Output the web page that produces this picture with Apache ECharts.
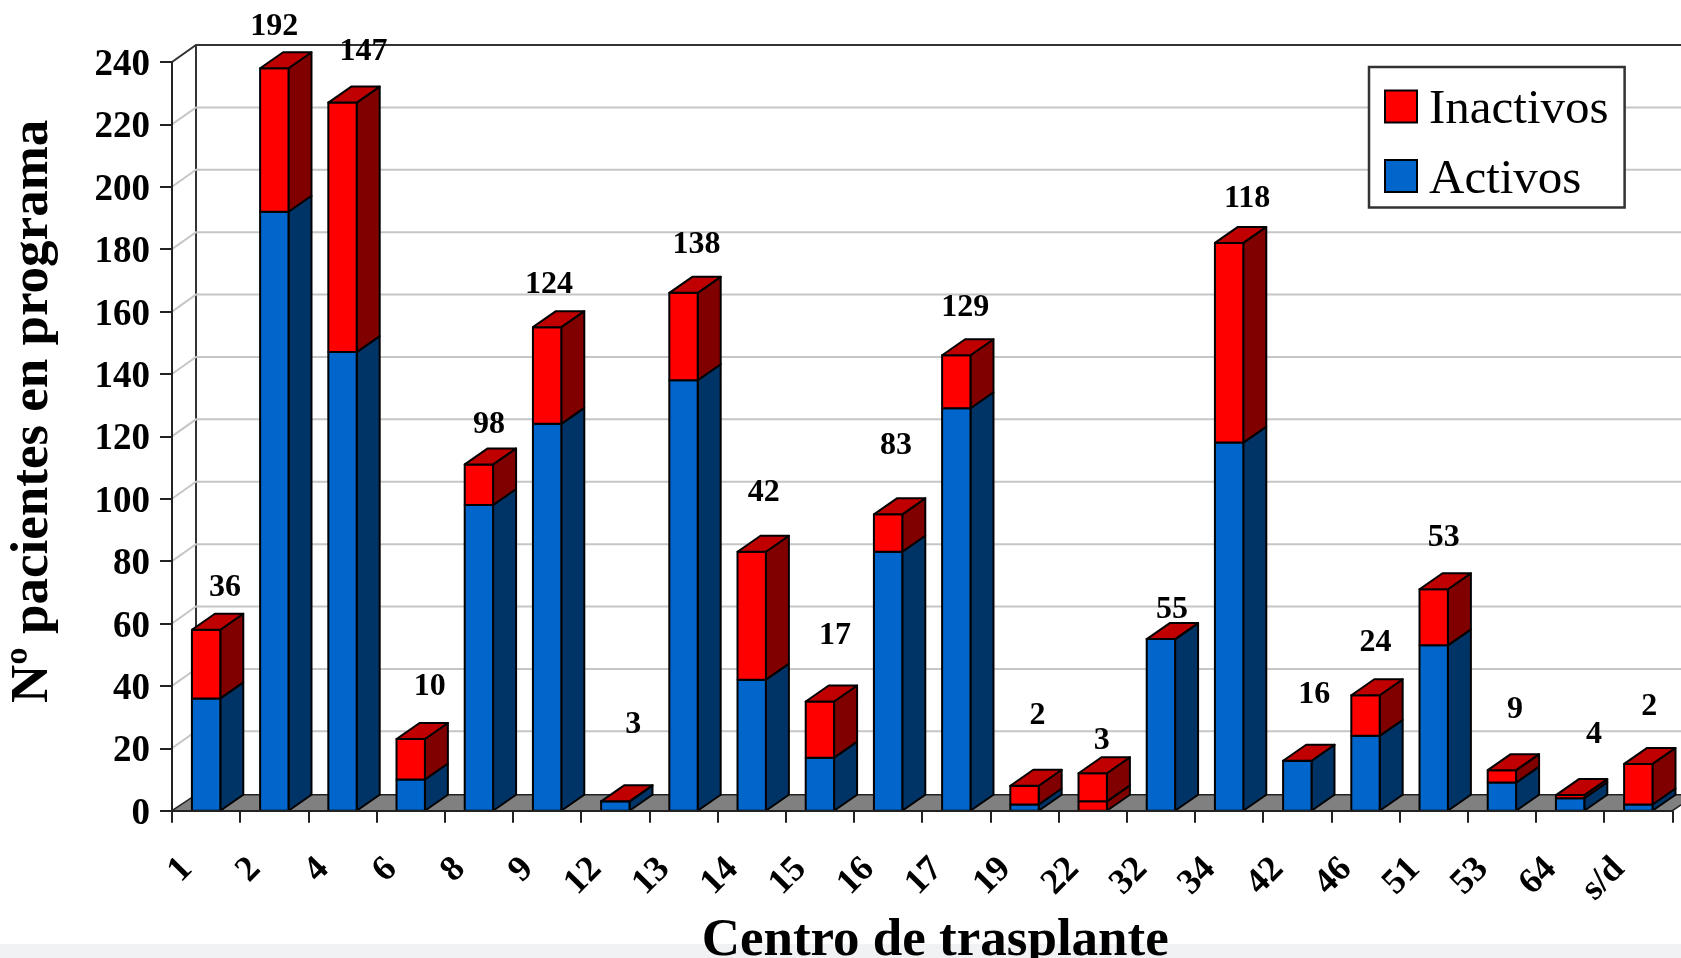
<!DOCTYPE html>
<html>
<head>
<meta charset="utf-8">
<style>
  html, body { margin: 0; padding: 0; background: #fff; }
  #chart { width: 1681px; height: 958px; }
</style>
</head>
<body>
<div id="chart"></div>
<script src="https://cdn.jsdelivr.net/npm/echarts@6/dist/echarts.min.js"></script>
<script>
const centros = ['1', '2', '4', '6', '8', '9', '12', '13', '14', '15', '16', '17', '19', '22', '32', '34', '42', '46', '51', '53', '64', 's/d']
const activos = [36, 192, 147, 10, 98, 124, 3, 138, 42, 17, 83, 129, 2, 3, 55, 118, 16, 24, 53, 9, 4, 2]
const inactivos = [22, 46, 80, 13, 13, 31, 0, 28, 41, 18, 12, 17, 6, 9, 0, 64, 0, 13, 18, 4, 1, 13]
const yTicks = [0, 20, 40, 60, 80, 100, 120, 140, 160, 180, 200, 220, 240]

// the value labels were placed by hand in the original, so each one has its own nudge (px)
const labelDx = [19, 0, 21, 19, 10, 2, 18, 13, 12, 15, 8, 9, 13, 9, 11, 18, 17, 10, 10, 13, 24, 11]
const labelLift = [45, 45, 54, 55, 43, 45, 80, 51, 62, 69, 72, 51, 73, 36, 32, 47, 69, 56, 54, 63, 63, 60]

// in the original the lower block of this centre came out red
const redBase = ['22']

const RED = '#FF0000'
const RED_SIDE = '#800000'
const RED_TOP = '#C00000'
const BLUE = '#0066CC'
const BLUE_SIDE = '#003366'
const SERIF = '"Liberation Serif", serif'

const WALL_X = 24
const WALL_Y = 16
const BAR_DEPTH_X = 23
const BAR_DEPTH_Y = 16
const BAR_RATIO = 0.416

function block(api, lo, hi, front, side, top) {
  const i = api.value(0)
  const cx = api.coord([i, 0])[0]
  const w = api.size([1, 0])[0] * BAR_RATIO
  const x1 = cx - w / 2
  const x2 = cx + w / 2
  const yLo = api.coord([i, lo])[1]
  const yHi = api.coord([i, hi])[1]
  const line = { stroke: '#000', lineWidth: 2, lineJoin: 'round' }
  const kids = [
    {
      type: 'polygon',
      shape: { points: [[x2, yLo], [x2 + BAR_DEPTH_X, yLo - BAR_DEPTH_Y], [x2 + BAR_DEPTH_X, yHi - BAR_DEPTH_Y], [x2, yHi]] },
      style: { fill: side, ...line },
    },
    {
      type: 'rect',
      shape: { x: x1, y: yHi, width: w, height: yLo - yHi },
      style: { fill: front, ...line },
    },
  ]
  if (top) {
    kids.push({
      type: 'polygon',
      shape: { points: [[x1, yHi], [x1 + BAR_DEPTH_X, yHi - BAR_DEPTH_Y], [x2 + BAR_DEPTH_X, yHi - BAR_DEPTH_Y], [x2, yHi]] },
      style: { fill: top, ...line },
    })
  }
  return kids
}

function renderActivos(params, api) {
  const isRed = redBase.includes(centros[params.dataIndex])
  return {
    type: 'group',
    children: block(api, 0, api.value(1), isRed ? RED : BLUE, isRed ? RED_SIDE : BLUE_SIDE),
  }
}

function renderInactivos(params, api) {
  const n = params.dataIndex
  const total = api.value(2)
  const kids = block(api, api.value(1), total, RED, RED_SIDE, RED_TOP)
  const cx = api.coord([n, 0])[0]
  const yTop = api.coord([n, total])[1]
  kids.push({
    type: 'text',
    z2: 20,
    style: {
      text: String(activos[n]),
      x: cx + labelDx[n],
      y: yTop - labelLift[n] + 3,
      align: 'center',
      verticalAlign: 'middle',
      font: 'bold 32px ' + SERIF,
      fill: '#000',
    },
  })
  return { type: 'group', children: kids }
}

// back wall, side wall and floor, the y axis only gives us the front edge
function renderWall(params, api) {
  const tick = api.value(0)
  const left = params.coordSys.x
  const right = left + params.coordSys.width
  const y = api.coord([0, tick])[1]
  const kids = []
  if (tick === 0) {
    kids.push({
      type: 'polygon',
      shape: { points: [[left, y], [left + WALL_X, y - WALL_Y], [right + WALL_X, y - WALL_Y], [right, y]] },
      style: { fill: '#808080', stroke: '#222', lineWidth: 1.5 },
    })
    const yMax = api.coord([0, yTicks[yTicks.length - 1]])[1]
    kids.push({
      type: 'line',
      shape: { x1: left + WALL_X, y1: y - WALL_Y, x2: left + WALL_X, y2: yMax - WALL_Y },
      style: { stroke: '#333', lineWidth: 2 },
    })
  } else {
    const isTop = tick === yTicks[yTicks.length - 1]
    kids.push({
      type: 'polyline',
      shape: { points: [[left, y], [left + WALL_X, y - WALL_Y - 1], [right + WALL_X, y - WALL_Y - 1]] },
      style: { fill: 'none', stroke: isTop ? '#333' : '#C6C6C6', lineWidth: 2 },
    })
  }
  return { type: 'group', children: kids }
}

const chart = echarts.init(document.getElementById('chart'))

chart.setOption({
  animation: false,
  backgroundColor: '#fff',
  textStyle: { fontFamily: SERIF },
  grid: { left: 172, top: 62, width: 1500.4, height: 748.7, outerBoundsMode: 'none' },
  legend: {
    data: ['Inactivos', 'Activos'],
    orient: 'vertical',
    left: 1369,
    top: 67,
    z: 10,
    icon: 'rect',
    itemWidth: 32,
    itemHeight: 32,
    itemGap: 20.5,
    padding: [19, 16, 3, 15],
    backgroundColor: '#fff',
    borderColor: '#333',
    borderWidth: 2.5,
    borderRadius: 0,
    formatter: '{a|{name}}',
    textStyle: {
      rich: {
        a: { fontFamily: SERIF, fontSize: 49, color: '#000', padding: [8, 0, 0, 7] },
      },
    },
  },
  xAxis: {
    type: 'category',
    data: centros,
    z: 3,
    name: 'Centro de trasplante',
    nameLocation: 'middle',
    nameGap: 97,
    nameTextStyle: { fontFamily: SERIF, fontWeight: 'bold', fontSize: 53, color: '#000', padding: [0, 0, 0, 26] },
    axisLine: { lineStyle: { color: '#222', width: 2 } },
    axisTick: { show: true, length: 12, alignWithLabel: false, lineStyle: { color: '#222', width: 2 } },
    axisLabel: {
      interval: 0,
      rotate: 45,
      align: 'right',
      verticalAlign: 'middle',
      margin: 34,
      padding: [0, 27, 0, 0],
      hideOverlap: false,
      fontFamily: SERIF,
      fontWeight: 'bold',
      fontSize: 36,
      color: '#000',
    },
  },
  yAxis: {
    type: 'value',
    min: 0,
    max: 240,
    interval: 20,
    z: 3,
    name: 'Nº pacientes en programa',
    nameLocation: 'middle',
    nameGap: 112,
    nameTextStyle: { fontFamily: SERIF, fontWeight: 'bold', fontSize: 53, color: '#000', padding: [0, 0, 0, 50] },
    splitLine: { show: false },
    axisLine: { show: true, lineStyle: { color: '#222', width: 2 } },
    axisTick: { show: true, length: 12, lineStyle: { color: '#222', width: 2 } },
    axisLabel: {
      margin: 22,
      formatter: '{v|{value}}',
      rich: {
        v: { fontFamily: SERIF, fontWeight: 'bold', fontSize: 37, color: '#000', padding: [7, 0, 0, 0] },
      },
    },
  },
  graphic: [
    {
      // pale strip along the bottom of the screenshot
      type: 'rect',
      z: -1,
      shape: { x: 0, y: 944, width: 1681, height: 14 },
      style: { fill: '#F1F2F3' },
    },
  ],
  series: [
    {
      name: 'wall',
      type: 'custom',
      z: 1,
      silent: true,
      encode: { y: 0 },
      data: yTicks.map((t) => [t]),
      renderItem: renderWall,
    },
    {
      name: 'Activos',
      type: 'custom',
      z: 2,
      itemStyle: { color: BLUE, borderColor: '#000', borderWidth: 2 },
      encode: { x: 0, y: 1 },
      data: activos.map((v, i) => [i, v]),
      renderItem: renderActivos,
    },
    {
      name: 'Inactivos',
      type: 'custom',
      z: 2,
      itemStyle: { color: RED, borderColor: '#000', borderWidth: 2 },
      encode: { x: 0, y: [1, 2] },
      data: inactivos.map((v, i) => [i, activos[i], activos[i] + v]),
      renderItem: renderInactivos,
    },
  ],
})
</script>
</body>
</html>
